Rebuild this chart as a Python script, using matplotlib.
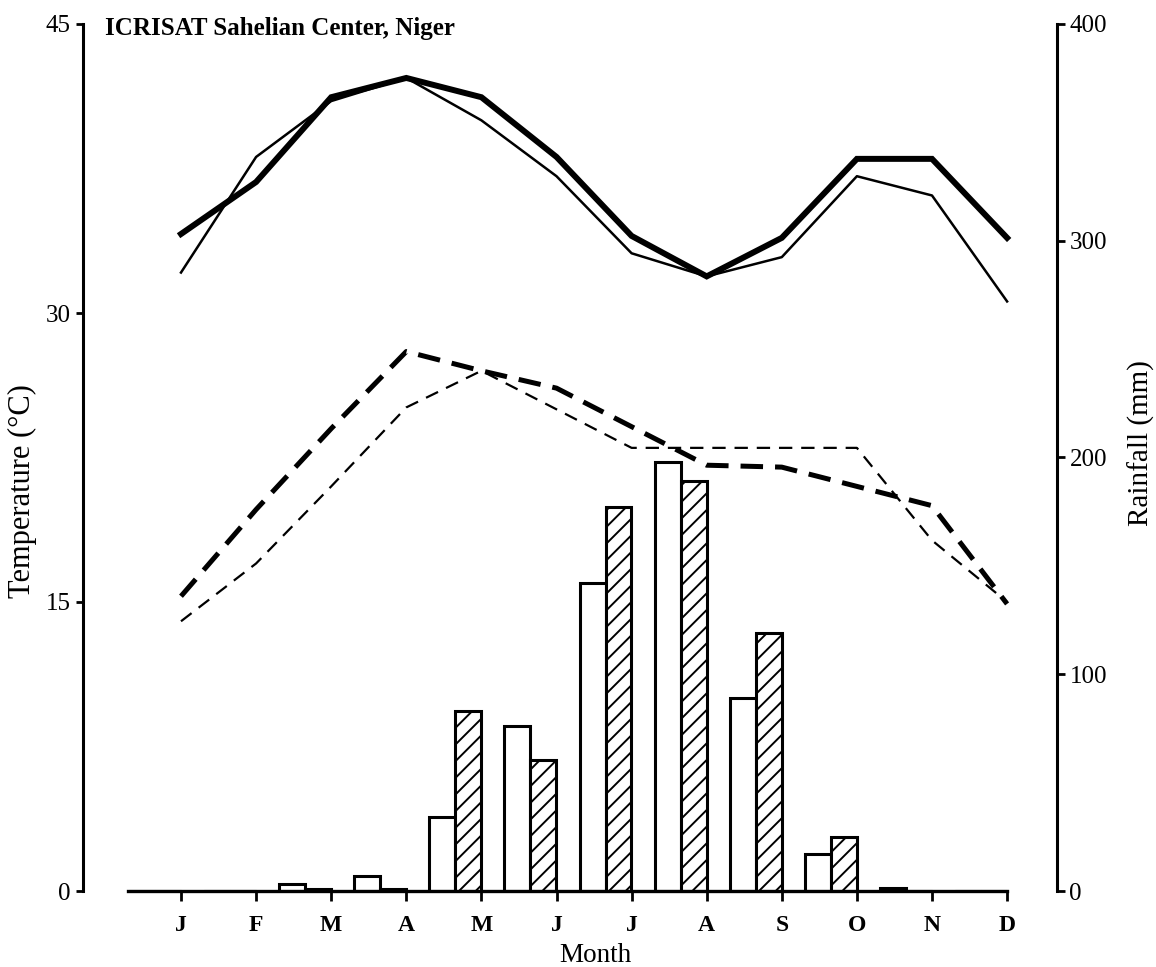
import matplotlib
matplotlib.use("Agg")
import matplotlib.pyplot as plt
import numpy as np

plt.rcParams['font.family'] = ['Liberation Serif', 'DejaVu Serif']
plt.rcParams['hatch.linewidth'] = 1.4

# Monthly data
months = ['J', 'F', 'M', 'A', 'M', 'J', 'J', 'A', 'S', 'O', 'N', 'D']

# Maximum temperatures (°C), two seasons
tmax_a = [34.1, 36.8, 41.2, 42.2, 41.2, 38.1, 34.0, 31.9, 33.9, 38.0, 38.0, 33.9]
tmax_b = [32.1, 38.1, 41.0, 42.2, 40.0, 37.1, 33.1, 31.9, 32.9, 37.1, 36.1, 30.6]

# Minimum temperatures (°C), two seasons
tmin_a = [15.3, 19.8, 24.0, 28.0, 27.0, 26.1, 24.1, 22.1, 22.0, 21.0, 20.0, 14.9]
tmin_b = [14.0, 17.0, 21.0, 25.1, 27.0, 25.0, 23.0, 23.0, 23.0, 23.0, 18.2, 15.0]

# Monthly rainfall (mm): open bars and hatched bars
rain_open = [0, 0, 3, 7, 34, 76, 142, 198, 89, 17, 1.5, 0]
rain_hatched = [0, 0, 1, 1, 83, 60.5, 177, 189, 119, 25, 0, 0]

temp_ticks = [0, 15, 30, 45]
rain_ticks = [0, 100, 200, 300, 400]

W, H = 1156, 967
fig = plt.figure(figsize=(W / 100, H / 100), dpi=100)
fig.patch.set_facecolor('white')

left_px, right_px, top_px, bottom_px = 83, 1057, 24, 891
ax = fig.add_axes([left_px / W, 1 - bottom_px / H,
                   (right_px - left_px) / W, (bottom_px - top_px) / H])
ax2 = ax.twinx()

x = np.arange(len(months))
step = 75.1
ax.set_xlim((left_px - 181) / step, (right_px - 181) / step)
ax.set_ylim(0, 45)
ax2.set_ylim(0, 400)

# Rainfall bars (drawn on the right-hand axis)
bw = 0.345
ax2.bar(x - 0.52, rain_open, width=bw, facecolor='white', edgecolor='black',
        linewidth=2.2, zorder=2)
ax2.bar(x - 0.175, rain_hatched, width=bw, facecolor='white', edgecolor='black',
        linewidth=2.2, hatch='//', zorder=2)

# Temperature lines drawn above the bars
ax.set_zorder(ax2.get_zorder() + 1)
ax.patch.set_visible(False)
ax.plot(x, tmax_a, color='black', lw=4.3, solid_joinstyle='miter')
ax.plot(x, tmax_b, color='black', lw=1.8)
ax.plot(x, tmin_a, color='black', lw=3.6, dashes=(4.5, 2.4))
ax.plot(x, tmin_b, color='black', lw=1.6, dashes=(6, 4))

# Spines
for s in ['top', 'right']:
    ax.spines[s].set_visible(False)
for s in ['top', 'left', 'bottom']:
    ax2.spines[s].set_visible(False)
ax.spines['left'].set_linewidth(2.2)
ax2.spines['right'].set_linewidth(2.2)
ax.spines['bottom'].set_linewidth(2.4)
ax.spines['bottom'].set_bounds((128 - 181) / step, 11)

# Ticks
ax.set_xticks(x)
ax.set_xticklabels(months, fontsize=17, fontweight='bold')
ax.tick_params(axis='x', direction='out', length=7, width=2, pad=10)
ax.set_yticks(temp_ticks)
ax.set_yticklabels([str(t) for t in temp_ticks], fontsize=18)
ax.tick_params(axis='y', direction='out', length=5, width=2, pad=4)
ax2.set_yticks(rain_ticks)
ax2.set_yticklabels([str(t) for t in rain_ticks], fontsize=18)
ax2.tick_params(axis='y', direction='out', length=6, width=2, pad=3)

# Labels
span = right_px - left_px
ax.set_ylabel('Temperature (°C)', fontsize=22)
ax.yaxis.set_label_coords((37 - left_px) / span, 0.461)
ax2.set_ylabel('Rainfall (mm)', fontsize=21)
ax2.yaxis.set_label_coords((1128 - left_px) / span, 0.517)
ax.set_xlabel('Month', fontsize=19.5)
ax.xaxis.set_label_coords((595 - left_px) / span, -0.060)

fig.text(105 / W, 1 - 35 / H, 'ICRISAT Sahelian Center, Niger',
         fontsize=18, fontweight='bold', ha='left', va='baseline')

fig.savefig('out.png', dpi=100, facecolor='white')
